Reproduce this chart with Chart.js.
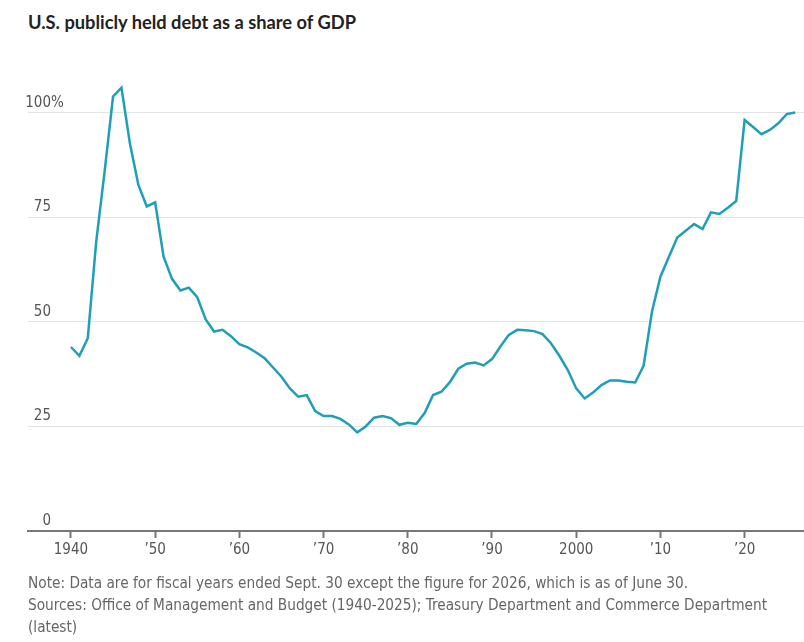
<!DOCTYPE html>
<html lang="en">
<head>
<meta charset="UTF-8">
<title>U.S. publicly held debt as a share of GDP</title>
<script src="https://cdn.jsdelivr.net/npm/chart.js@4.4.1/dist/chart.umd.js"></script>
<style>
  html, body { margin: 0; padding: 0; background: #fff; }
  #wrap { position: relative; width: 804px; height: 642px; overflow: hidden; }
  #chart { position: absolute; left: 0; top: 0; }
  h1 {
    position: absolute; left: 28px; top: 11px; margin: 0;
    font: bold 18.3px Lato, "Open Sans", sans-serif; color: #222;
  }
  .note {
    position: absolute; left: 28px; top: 572px; margin: 0; width: 810px;
    font: 16px "Liberation Sans Narrow", "Arial Narrow", "DejaVu Sans Condensed", Roboto, sans-serif;
    color: #666; line-height: 22px;
    transform: scaleX(0.952); transform-origin: left top;
  }
</style>
</head>
<body>
<div id="wrap">
  <h1>U.S. publicly held debt as a share of GDP</h1>
  <canvas id="chart" width="804" height="642"></canvas>
  <div class="note">Note: Data are for fiscal years ended Sept. 30 except the figure for 2026, which is as of June 30.<br>Sources: Office of Management and Budget (1940-2025); Treasury Department and Commerce Department (latest)</div>
</div>
<script>
const years = [
  1940, 1941, 1942, 1943, 1944, 1945, 1946, 1947, 1948, 1949,
  1950, 1951, 1952, 1953, 1954, 1955, 1956, 1957, 1958, 1959,
  1960, 1961, 1962, 1963, 1964, 1965, 1966, 1967, 1968, 1969,
  1970, 1971, 1972, 1973, 1974, 1975, 1976, 1977, 1978, 1979,
  1980, 1981, 1982, 1983, 1984, 1985, 1986, 1987, 1988, 1989,
  1990, 1991, 1992, 1993, 1994, 1995, 1996, 1997, 1998, 1999,
  2000, 2001, 2002, 2003, 2004, 2005, 2006, 2007, 2008, 2009,
  2010, 2011, 2012, 2013, 2014, 2015, 2016, 2017, 2018, 2019,
  2020, 2021, 2022, 2023, 2024, 2025, 2026
];
// debt held by the public, % of GDP
const debtShare = [
  44.0, 41.9, 46.1, 69.2, 86.0, 103.9, 106.0, 92.7, 82.8, 77.6,
  78.6, 65.6, 60.3, 57.5, 58.2, 55.9, 50.6, 47.7, 48.1, 46.6,
  44.7, 43.9, 42.7, 41.3, 39.1, 36.9, 34.1, 32.1, 32.5, 28.7,
  27.5, 27.5, 26.8, 25.5, 23.6, 25.0, 27.1, 27.5, 27.0, 25.4,
  25.9, 25.6, 28.2, 32.5, 33.3, 35.6, 38.8, 40.0, 40.3, 39.6,
  41.1, 44.1, 46.9, 48.1, 48.0, 47.8, 47.1, 44.9, 41.9, 38.5,
  34.1, 31.7, 33.1, 34.9, 36.0, 36.0, 35.7, 35.5, 39.5, 52.5,
  60.8, 65.5, 70.2, 71.8, 73.4, 72.2, 76.2, 75.8, 77.3, 78.9,
  98.3, 96.6, 94.9, 95.9, 97.5, 99.7, 100.1
];
const xTicks = [1940, 1950, 1960, 1970, 1980, 1990, 2000, 2010, 2020];
const yTicks = [0, 25, 50, 75, 100];

const narrow = '"Liberation Sans Narrow", "Arial Narrow", "DejaVu Sans Condensed", Roboto, sans-serif';

function yearLabel(v) {
  if (v === 1940 || v === 2000) return String(v);
  return '\u2019' + String(v).slice(2);
}

// y labels sit just above their gridlines, right-aligned, with % only on the top one
const yLabels = {
  id: 'yLabels',
  afterDraw(chart) {
    const ctx = chart.ctx;
    const y = chart.scales.y;
    ctx.save();
    ctx.font = '15px ' + narrow;
    ctx.fillStyle = '#555';
    ctx.textBaseline = 'middle';
    yTicks.forEach(v => {
      const py = y.getPixelForValue(v) - 10;
      ctx.textAlign = 'right';
      ctx.fillText(String(v), 51, py);
      if (v === 100) {
        ctx.textAlign = 'left';
        ctx.fillText('%', 51, py);
      }
    });
    ctx.restore();
  }
};

new Chart(document.getElementById('chart'), {
  type: 'line',
  data: {
    datasets: [{
      data: years.map((yr, i) => ({ x: yr, y: debtShare[i] })),
      borderColor: '#1f9fb6',
      borderWidth: 2.5,
      pointRadius: 0,
      tension: 0,
      fill: false
    }]
  },
  options: {
    responsive: false,
    animation: false,
    layout: { padding: { top: 71, left: 28, right: 0, bottom: 0 } },
    plugins: { legend: { display: false }, tooltip: { enabled: false } },
    scales: {
      x: {
        type: 'linear',
        min: 1934.9,
        max: 2027.05,
        afterBuildTicks: s => { s.ticks = xTicks.map(v => ({ value: v })); },
        afterFit: s => { s.height = 111; },
        border: { display: true, color: '#777', width: 2 },
        grid: { drawOnChartArea: false, drawTicks: true, tickLength: 7, color: '#777', tickWidth: 2 },
        ticks: {
          color: '#555',
          font: { family: narrow, size: 15 },
          padding: 3,
          maxRotation: 0,
          autoSkip: false,
          callback: v => yearLabel(v)
        }
      },
      y: {
        min: 0,
        max: 110,
        afterBuildTicks: s => { s.ticks = yTicks.map(v => ({ value: v })); },
        afterFit: s => { s.width = 0; },
        border: { display: false },
        grid: { color: '#e3e3e3', drawTicks: false, lineWidth: 1 },
        ticks: { display: false }
      }
    }
  },
  plugins: [yLabels]
});
</script>
</body>
</html>
